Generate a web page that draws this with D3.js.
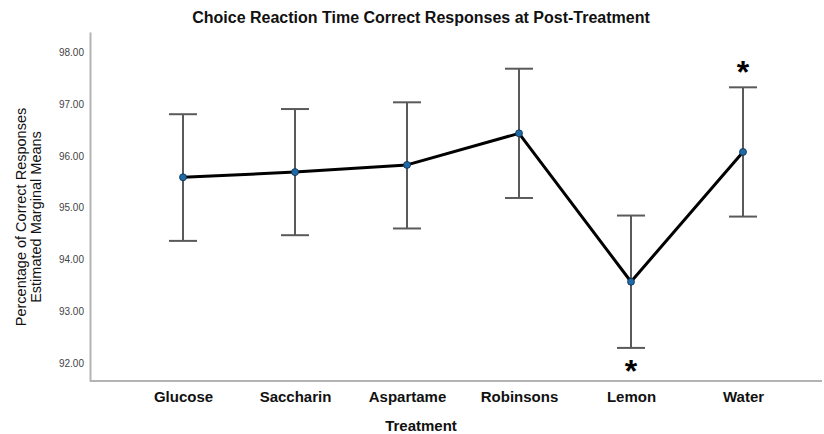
<!DOCTYPE html>
<html>
<head>
<meta charset="utf-8">
<script src="https://cdn.jsdelivr.net/npm/d3@7/dist/d3.min.js"></script>
<style>
  html, body { margin: 0; padding: 0; background: #fff; }
  svg { display: block; font-family: "Liberation Sans", Arial, sans-serif; }
</style>
</head>
<body>
<svg id="chart" width="824" height="434"></svg>
<script>
// Estimated marginal means (% correct) with 95% CI bounds per treatment
const treatments = ["Glucose", "Saccharin", "Aspartame", "Robinsons", "Lemon", "Water"];
const means = [95.59, 95.69, 95.83, 96.44, 93.57, 96.08];
const lower = [94.36, 94.47, 94.60, 95.19, 92.29, 94.83];
const upper = [96.81, 96.91, 97.04, 97.69, 94.85, 97.33];
const yTicks = [92, 93, 94, 95, 96, 97, 98];
// Significance markers: which treatment, and whether the star sits above or below its bar
const starTreatments = ["Lemon", "Water"];
const starSide = ["below", "above"];

const svg = d3.select("#chart");

const x = d3.scalePoint().domain(treatments).range([183, 743]);
const y = d3.scaleLinear().domain([91.65, 98.4]).range([381, 32]);

// Title
svg.append("text")
  .attr("x", 421).attr("y", 23)
  .attr("text-anchor", "middle")
  .attr("font-size", 16).attr("font-weight", "bold")
  .attr("fill", "#111")
  .text("Choice Reaction Time Correct Responses at Post-Treatment");

// Y axis
const yAxis = d3.axisLeft(y).tickValues(yTicks).tickFormat(d3.format(".2f")).tickSize(0).tickPadding(6);
const gy = svg.append("g").attr("transform", "translate(90,0)").call(yAxis);
gy.select(".domain").attr("stroke", "#b3b3b3").attr("stroke-width", 2);
gy.selectAll("text").attr("font-size", 10).attr("fill", "#444")
  .attr("font-family", "'Liberation Sans', Arial, sans-serif");

// X axis
const xAxis = d3.axisBottom(x).tickSize(0).tickPadding(10);
const gx = svg.append("g").attr("transform", "translate(0,381)").call(xAxis);
gx.select(".domain").attr("d", "M90,0H822").attr("stroke", "#b3b3b3").attr("stroke-width", 2);
gx.selectAll("text").attr("font-size", 15).attr("font-weight", "bold").attr("fill", "#111")
  .attr("font-family", "'Liberation Sans', Arial, sans-serif");

// Axis titles
svg.append("text")
  .attr("x", 421).attr("y", 431)
  .attr("text-anchor", "middle")
  .attr("font-size", 15).attr("font-weight", "bold").attr("fill", "#111")
  .text("Treatment");

const yTitle = svg.append("text")
  .attr("transform", "translate(26,217) rotate(-90)")
  .attr("text-anchor", "middle")
  .attr("font-size", 14.5).attr("fill", "#111");
yTitle.append("tspan").attr("x", 0).attr("dy", 0).text("Percentage of Correct Responses");
yTitle.append("tspan").attr("x", 0).attr("dy", 14.5).text("Estimated Marginal Means");

// Error bars
const rows = treatments.map((t, i) => ({ t, m: means[i], lo: lower[i], hi: upper[i] }));
const capW = 14;
const eb = svg.append("g").attr("stroke", "#5a5a5a").attr("stroke-width", 2);
eb.selectAll("line.v").data(rows).join("line").attr("class", "v")
  .attr("x1", d => x(d.t)).attr("x2", d => x(d.t))
  .attr("y1", d => y(d.lo)).attr("y2", d => y(d.hi));
eb.selectAll("line.top").data(rows).join("line").attr("class", "top")
  .attr("x1", d => x(d.t) - capW).attr("x2", d => x(d.t) + capW)
  .attr("y1", d => y(d.hi)).attr("y2", d => y(d.hi));
eb.selectAll("line.bot").data(rows).join("line").attr("class", "bot")
  .attr("x1", d => x(d.t) - capW).attr("x2", d => x(d.t) + capW)
  .attr("y1", d => y(d.lo)).attr("y2", d => y(d.lo));

// Mean line
svg.append("path")
  .datum(rows)
  .attr("fill", "none").attr("stroke", "#000").attr("stroke-width", 3)
  .attr("stroke-linejoin", "round")
  .attr("d", d3.line().x(d => x(d.t)).y(d => y(d.m)));

// Mean markers
svg.append("g").selectAll("circle").data(rows).join("circle")
  .attr("cx", d => x(d.t)).attr("cy", d => y(d.m)).attr("r", 3.5)
  .attr("fill", "#1f6aa5").attr("stroke", "#0d2f4f").attr("stroke-width", 0.8);

// Significance stars
svg.append("g").selectAll("text").data(starTreatments).join("text")
  .attr("x", t => x(t))
  .attr("y", (t, i) => {
    const r = rows.find(d => d.t === t);
    return starSide[i] === "above" ? y(r.hi) - 4 : y(r.lo) + 34;
  })
  .attr("text-anchor", "middle")
  .attr("font-size", 32).attr("font-weight", "bold").attr("fill", "#000")
  .text("*");
</script>
</body>
</html>
